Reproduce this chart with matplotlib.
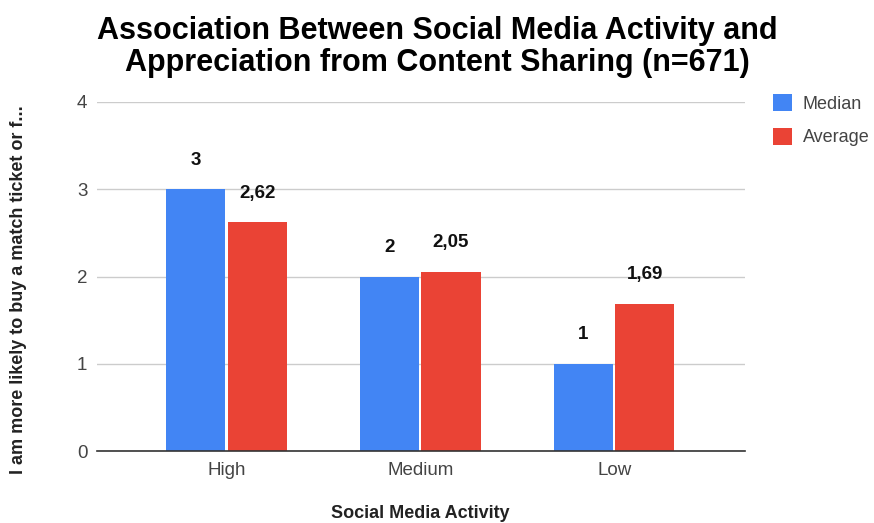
import matplotlib
matplotlib.use("Agg")
import matplotlib.pyplot as plt
import numpy as np

plt.rcParams['font.family'] = ['Liberation Sans', 'DejaVu Sans']

categories = ["High", "Medium", "Low"]
median_vals = [3, 2, 1]
average_vals = [2.62, 2.05, 1.69]
median_labels = ["3", "2", "1"]
average_labels = ["2,62", "2,05", "1,69"]
y_ticks = [0, 1, 2, 3, 4]

title = "Association Between Social Media Activity and\nAppreciation from Content Sharing (n=671)"
x_title = "Social Media Activity"
y_title = "I am more likely to buy a match ticket or f..."

blue = "#4285F4"
red = "#EA4335"

fig = plt.figure(figsize=(8.74, 5.23), dpi=100)
ax = fig.add_axes([97/874, 1 - 451/523, (745-97)/874, (451-102)/523])

x = np.arange(len(categories))
w = 0.305
off = 0.158
b1 = ax.bar(x - off, median_vals, w, color=blue, label="Median", zorder=3)
b2 = ax.bar(x + off, average_vals, w, color=red, label="Average", zorder=3)

for bars, labels in ((b1, median_labels), (b2, average_labels)):
    for rect, lab in zip(bars, labels):
        ax.annotate(lab, (rect.get_x() + rect.get_width()/2, rect.get_height()),
                    xytext=(0, 21), textcoords="offset points",
                    ha="center", va="center", fontsize=13.5, fontweight="bold",
                    color="#111111", zorder=4)

ax.set_xlim(-0.668, 2.675)
ax.set_ylim(0, 4)
ax.set_yticks(y_ticks)
ax.set_xticks(x)
ax.set_xticklabels(categories)
ax.tick_params(axis='both', length=0, labelsize=13.5, colors="#444444")
ax.tick_params(axis='y', pad=7)
ax.tick_params(axis='x', pad=8)
ax.grid(axis='y', color="#cccccc", linewidth=1, zorder=0)
for s in ("top", "right", "left"):
    ax.spines[s].set_visible(False)
ax.spines["bottom"].set_color("#333333")
ax.spines["bottom"].set_linewidth(1.2)
ax.spines["bottom"].set_zorder(5)

fig.text(0.5, 1 - 47/523, title, ha="center", va="center",
         fontsize=22, fontweight="bold", linespacing=1.05)
fig.text(420/874, 1 - 514/523, x_title, ha="center", va="center",
         fontsize=13, fontweight="bold", color="#222222")
fig.text(19/874, 1 - 290/523, y_title, ha="center", va="center",
         rotation=90, fontsize=13, fontweight="bold", color="#222222")

leg = ax.legend(loc="upper left", bbox_to_anchor=(773/874, 1 - 94/523),
                bbox_transform=fig.transFigure, frameon=False, fontsize=13,
                handlelength=1.05, handleheight=1.05, handletextpad=0.6,
                labelspacing=0.85, borderaxespad=0, borderpad=0)
for t in leg.get_texts():
    t.set_color("#444444")

fig.savefig("out.png", dpi=100)
